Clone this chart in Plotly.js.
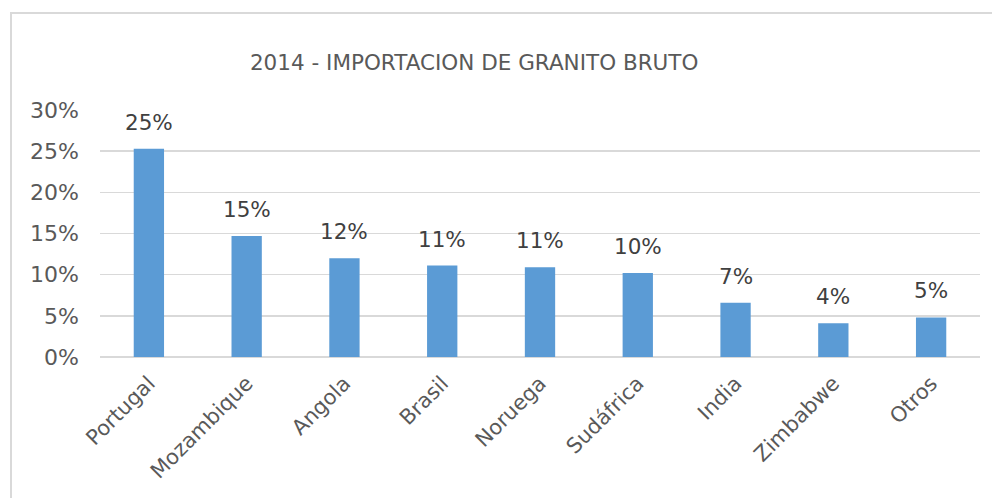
<!DOCTYPE html>
<html>
<head>
<meta charset="utf-8">
<script src="https://cdn.plot.ly/plotly-3.0.1.min.js"></script>
<style>
  html, body { margin: 0; padding: 0; background: #fff; }
  #wrap { position: relative; width: 992px; height: 498px; overflow: hidden; }
  #chart { position: absolute; left: 0; top: 0; width: 992px; height: 498px; }
  #frame { position: absolute; left: 10px; top: 12px; width: 1000px; height: 500px;
           border-left: 2px solid #d9d9d9; border-top: 2px solid #d9d9d9; pointer-events: none; }
</style>
</head>
<body>
<div id="wrap">
  <div id="chart"></div>
  <div id="frame"></div>
</div>
<script>
const countries = ["Portugal", "Mozambique", "Angola", "Brasil", "Noruega", "Sudáfrica", "India", "Zimbabwe", "Otros"];
const shares = [0.253, 0.147, 0.120, 0.111, 0.109, 0.102, 0.066, 0.041, 0.048];
const yTickValues = [0, 0.05, 0.10, 0.15, 0.20, 0.25, 0.30];
const chartTitle = "2014 - IMPORTACION DE GRANITO BRUTO";

const FONT = "'DejaVu Sans', sans-serif";

const trace = {
  type: "bar",
  x: countries,
  y: shares,
  marker: { color: "#5b9bd5" },
  width: 0.31,
  hoverinfo: "skip"
};

const annotations = countries.map((c, i) => ({
  x: c,
  y: shares[i],
  xref: "x",
  yref: "y",
  text: Math.round(shares[i] * 100) + "%",
  showarrow: false,
  yanchor: "bottom",
  yshift: 12,
  font: { family: FONT, size: 21.5, color: "#404040" }
}));

const layout = {
  width: 992,
  height: 498,
  margin: { l: 100, r: 12, t: 110, b: 141 },
  paper_bgcolor: "#ffffff",
  plot_bgcolor: "#ffffff",
  showlegend: false,
  title: {
    text: chartTitle,
    xref: "container",
    yref: "container",
    x: 0.478,
    xanchor: "center",
    y: 1 - 62 / 498,
    yanchor: "middle",
    font: { family: FONT, size: 21.5, color: "#595959" }
  },
  xaxis: {
    type: "category",
    tickangle: -45,
    showgrid: false,
    showline: false,
    ticks: "",
    ticklabelstandoff: 9,
    tickfont: { family: FONT, size: 21, color: "#595959" },
    fixedrange: true
  },
  yaxis: {
    range: [0, 0.30],
    tickvals: yTickValues,
    tickformat: ".0%",
    showgrid: true,
    gridcolor: "#d9d9d9",
    gridwidth: 1.5,
    zeroline: true,
    zerolinecolor: "#d9d9d9",
    zerolinewidth: 1.5,
    showline: false,
    ticks: "",
    ticklabelstandoff: 20,
    tickfont: { family: FONT, size: 22, color: "#595959" },
    fixedrange: true
  },
  annotations: annotations
};

Plotly.newPlot("chart", [trace], layout, { displayModeBar: false, staticPlot: true });
</script>
</body>
</html>
